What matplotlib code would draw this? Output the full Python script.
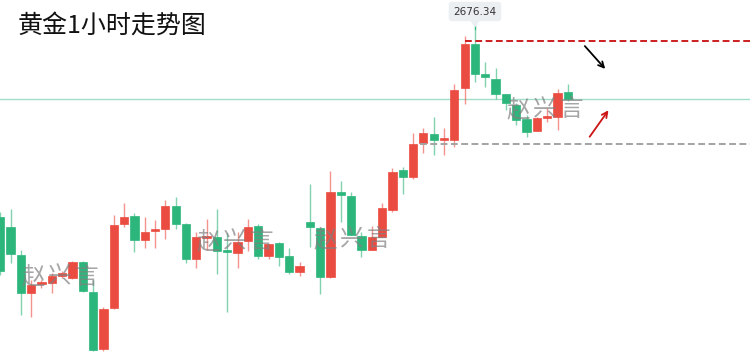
import matplotlib.pyplot as plt
import numpy as np

plt.rcParams["font.family"] = ["Noto Sans CJK SC", "DejaVu Sans"]

# hourly gold candles (red = up, green = down)
opens = [2638.94, 2636.94, 2631.34, 2623.74, 2625.54, 2625.74, 2627.14, 2626.74, 2629.94, 2623.94,
         2612.54, 2620.74, 2637.54, 2639.14, 2634.34, 2636.14, 2636.54, 2641.14, 2637.54, 2630.54,
         2634.74, 2634.94, 2632.14, 2631.74, 2634.14, 2637.14, 2631.14, 2633.74, 2631.14, 2627.94,
         2637.94, 2636.74, 2626.94, 2643.94, 2643.14, 2635.14, 2632.34, 2634.94, 2640.34, 2648.34,
         2646.94, 2653.74, 2655.54, 2654.34, 2654.34, 2664.74, 2673.54, 2667.54, 2666.54, 2663.54,
         2661.34, 2658.54, 2656.14, 2658.74, 2658.94, 2663.94]
highs = [2639.94, 2640.54, 2632.34, 2626.34, 2626.34, 2627.74, 2628.14, 2630.14, 2630.14, 2626.34,
         2620.94, 2639.34, 2641.74, 2639.74, 2638.94, 2638.34, 2642.34, 2642.94, 2637.74, 2635.94,
         2638.54, 2640.54, 2635.74, 2635.94, 2638.54, 2637.54, 2633.54, 2633.94, 2632.74, 2629.94,
         2645.54, 2636.74, 2648.14, 2646.14, 2643.94, 2635.94, 2637.14, 2641.74, 2648.74, 2648.94,
         2655.74, 2656.74, 2658.94, 2656.74, 2665.54, 2675.14, 2676.34, 2669.94, 2668.74, 2663.54,
         2661.74, 2659.34, 2658.94, 2660.74, 2664.54, 2665.54]
lows = [2627.34, 2629.74, 2619.34, 2618.94, 2624.74, 2623.74, 2626.74, 2626.54, 2623.94, 2612.14,
        2612.14, 2620.54, 2636.94, 2631.94, 2632.74, 2632.74, 2634.54, 2636.54, 2629.74, 2628.74,
        2632.34, 2627.54, 2619.94, 2628.74, 2632.14, 2630.54, 2630.54, 2629.14, 2627.54, 2627.14,
        2632.94, 2623.54, 2626.74, 2637.94, 2635.34, 2630.94, 2632.34, 2634.94, 2639.94, 2643.54,
        2646.54, 2651.74, 2651.34, 2651.34, 2652.94, 2661.54, 2665.94, 2664.94, 2662.54, 2660.34,
        2657.34, 2654.94, 2656.14, 2657.94, 2656.34, 2662.14]
closes = [2628.14, 2631.54, 2623.74, 2625.34, 2625.74, 2627.14, 2627.74, 2629.94, 2624.14, 2612.34,
          2620.54, 2637.34, 2638.94, 2634.34, 2635.94, 2636.54, 2641.14, 2637.54, 2630.54, 2634.94,
          2635.14, 2632.14, 2631.94, 2633.94, 2636.94, 2631.14, 2633.54, 2630.94, 2627.94, 2629.14,
          2636.94, 2626.94, 2643.94, 2643.34, 2635.34, 2632.34, 2634.94, 2640.74, 2647.94, 2646.94,
          2653.54, 2655.74, 2654.34, 2654.54, 2664.34, 2673.54, 2667.54, 2666.94, 2663.54, 2661.74,
          2658.34, 2655.94, 2658.74, 2658.94, 2663.74, 2662.54]

high_label = "2676.34"
resistance = 2674.24
support = 2653.54
watermark = "赵兴言"
title = "黄金1小时走势图"

RED = "#ea4c41"
GREEN = "#2db67c"

opens = np.array(opens)
closes = np.array(closes)
idx = np.arange(len(opens))
up = closes >= opens
colors = np.where(up, RED, GREEN)

fig = plt.figure(figsize=(7.5, 3.52), dpi=100)
ax = fig.add_axes([0, 0, 1, 1])

# pixel -> data: x = (px - 0.2) / 10.32, price = 2682.34 - 0.2 * py
ax.set_xlim(-0.02, 72.65)
ax.set_ylim(2611.94, 2682.34)
ax.axis("off")

# last price line
ax.axhline(closes[-1], color="#a3dec6", lw=1.0, zorder=1)

# wicks + bodies
ax.vlines(idx, lows, highs, colors=colors, lw=1.0, alpha=0.6, zorder=2)
bottoms = np.minimum(opens, closes)
heights = np.maximum(np.abs(closes - opens), 0.35)
ax.bar(idx, heights, bottom=bottoms, width=0.8, color=colors, edgecolor=colors, lw=0.5, zorder=3)

# key levels
ax.hlines(resistance, 45.05, 72.65, colors="#cc1f1f", linestyles=(0, (3.5, 1.8)), lw=1.4, zorder=4)
ax.hlines(support, 40.7, 72.65, colors="#a3a3a3", linestyles=(0, (3.5, 1.8)), lw=1.4, zorder=4)

# direction arrows
ax.annotate("", xy=(58.80, 2668.14), xytext=(56.47, 2673.54),
            arrowprops=dict(arrowstyle="->", color="black", lw=1.3, mutation_scale=10))
ax.annotate("", xy=(59.09, 2660.74), xytext=(56.96, 2654.54),
            arrowprops=dict(arrowstyle="->", color="#cc1414", lw=1.3, mutation_scale=10))

# high price tag
hi = int(np.argmax(highs))
ax.text(hi, 2680.04, high_label, ha="center", va="center", fontsize=7.5, color="#333333",
        family="DejaVu Sans",
        bbox=dict(boxstyle="round,pad=0.45,rounding_size=0.3", fc="#eceff2", ec="none"), zorder=6)
ax.fill([hi - 0.4, hi + 0.4, hi], [2678.34, 2678.34, 2677.04], color="#eceff2", zorder=6)
ax.vlines(hi, 2676.34, 2677.3, colors=GREEN, lw=1.0, zorder=5)

# watermarks, characters spread out like the original
for wx, wy in [(60, 277), (235, 242), (352, 240), (545, 110)]:
    for k, ch in enumerate(watermark):
        fig.text((wx + (k - 1) * 27) / 750, 1 - wy / 352, ch, ha="center", va="center",
                 fontsize=17, fontweight="light", color="#808080", alpha=0.7, zorder=7)

fig.text(18 / 750, 1 - 26 / 352, title, ha="left", va="center", fontsize=18, color="#111111")

fig.savefig("out.png", dpi=100)
